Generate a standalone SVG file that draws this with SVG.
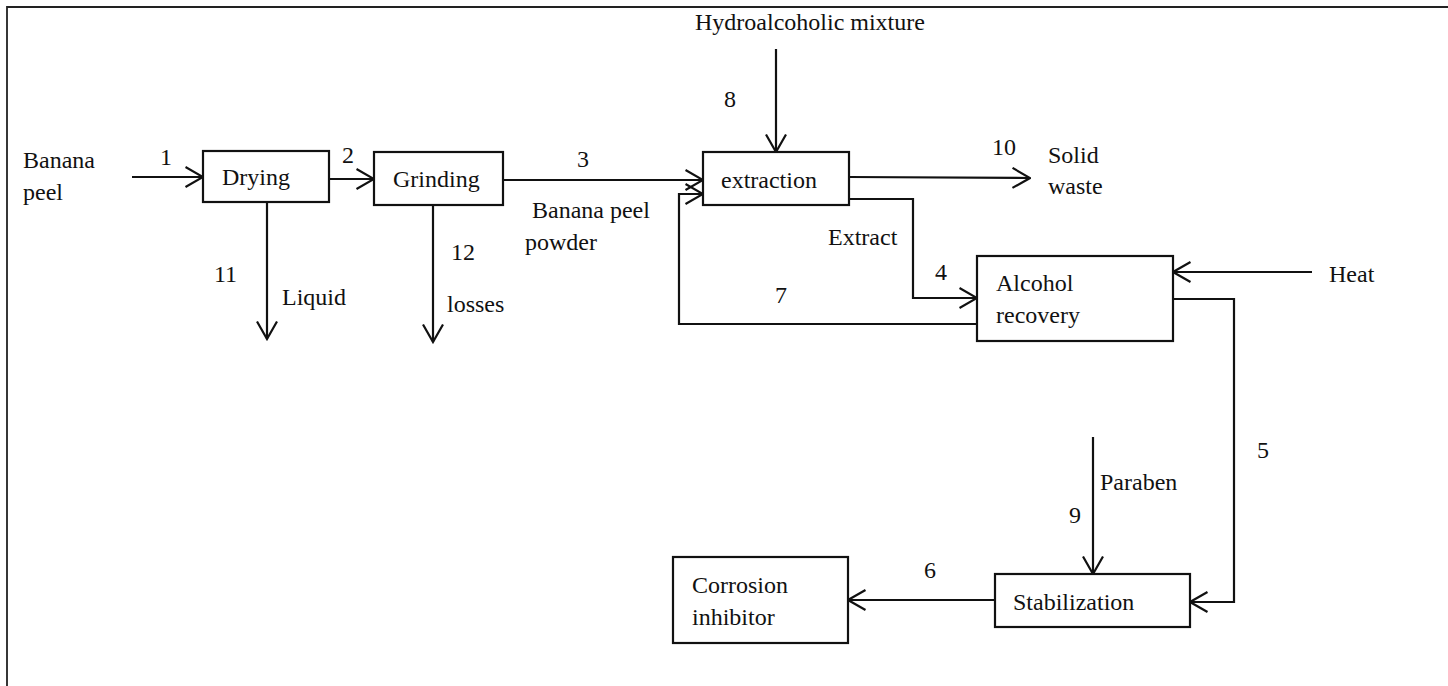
<svg xmlns="http://www.w3.org/2000/svg" width="1448" height="686" viewBox="0 0 1448 686">
<style>
.box{fill:#fff;stroke:#111;stroke-width:2.2}
.c{fill:none;stroke:#111;stroke-width:2.2}
.frame{fill:none;stroke:#222;stroke-width:1.8}
</style>
<defs>
<marker id="ah" viewBox="0 0 20 22" refX="18.5" refY="11" markerWidth="20" markerHeight="22" markerUnits="userSpaceOnUse" orient="auto">
<path d="M1,1 L18.5,11 L1,21" fill="none" stroke="#111" stroke-width="2.2"/>
</marker>
</defs>
<rect width="1448" height="686" fill="#fff"/>
<path class="frame" d="M7,686 V7 H1448"/>
<g id="connectors">
<path class="c" d="M132,177 H203" marker-end="url(#ah)"/>
<path class="c" d="M329,179 H374" marker-end="url(#ah)"/>
<path class="c" d="M267,202 V339" marker-end="url(#ah)"/>
<path class="c" d="M433,205 V342" marker-end="url(#ah)"/>
<path class="c" d="M503,180 H703" marker-end="url(#ah)"/>
<path class="c" d="M776,49 V152" marker-end="url(#ah)"/>
<path class="c" d="M849,177 L1030,178" marker-end="url(#ah)"/>
<path class="c" d="M849,199 H913 V298 H977" marker-end="url(#ah)"/>
<path class="c" d="M977,324 H679 V194 H703" marker-end="url(#ah)"/>
<path class="c" d="M1312,272 H1173" marker-end="url(#ah)"/>
<path class="c" d="M1173,299 H1234 V602 H1190" marker-end="url(#ah)"/>
<path class="c" d="M1093,437 V574" marker-end="url(#ah)"/>
<path class="c" d="M995,600 H848" marker-end="url(#ah)"/>
</g>
<g font-family="'Liberation Serif', serif" font-size="24" fill="#111">
<g id="drying"><rect class="box" x="203" y="151" width="126" height="51"/><text x="222" y="185">Drying</text></g>
<g id="grinding"><rect class="box" x="374" y="152" width="129" height="53"/><text x="393" y="187">Grinding</text></g>
<g id="extraction"><rect class="box" x="703" y="152" width="146" height="53"/><text x="721" y="188">extraction</text></g>
<g id="alcohol-recovery"><rect class="box" x="977" y="256" width="196" height="85"/><text x="996" y="291">Alcohol</text><text x="996" y="323">recovery</text></g>
<g id="stabilization"><rect class="box" x="995" y="574" width="195" height="53"/><text x="1013" y="610">Stabilization</text></g>
<g id="corrosion-inhibitor"><rect class="box" x="673" y="557" width="175" height="86"/><text x="692" y="593">Corrosion</text><text x="692" y="625">inhibitor</text></g>
<g id="labels">
<text x="23" y="168">Banana</text><text x="23" y="200">peel</text>
<text x="160" y="165">1</text>
<text x="342" y="163">2</text>
<text x="577" y="167">3</text>
<text x="532" y="218">Banana peel</text><text x="525" y="250">powder</text>
<text x="214" y="282">11</text><text x="282" y="305">Liquid</text>
<text x="451" y="260">12</text><text x="447" y="312">losses</text>
<text x="695" y="30">Hydroalcoholic mixture</text>
<text x="724" y="107">8</text>
<text x="992" y="155">10</text>
<text x="1048" y="163">Solid</text><text x="1048" y="194">waste</text>
<text x="828" y="245">Extract</text>
<text x="935" y="280">4</text>
<text x="775" y="303">7</text>
<text x="1329" y="282">Heat</text>
<text x="1257" y="458">5</text>
<text x="1100" y="490">Paraben</text>
<text x="1069" y="523">9</text>
<text x="924" y="578">6</text>
</g>
</g>
</svg>
